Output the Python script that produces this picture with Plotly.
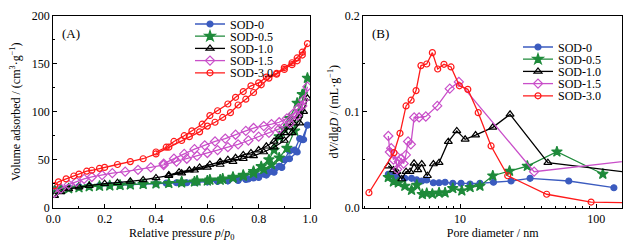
import plotly.graph_objects as go

# ---------------- Panel A: N2 isotherms (adsorption + desorption branches) -------------
names = ["SOD-0", "SOD-0.5", "SOD-1.0", "SOD-1.5", "SOD-3.0"]

a_p_sod0 = [0.005,0.03,0.06,0.1,0.14,0.18,0.22,0.26,0.3,0.35,0.4,0.44,0.48,0.52,0.56,0.6,0.64,0.68,0.72,0.76,0.8,0.83,0.86,0.89,0.92,0.95,0.97,0.99,
            0.975,0.96,0.94,0.92,0.9,0.88,0.86,0.84,0.82,0.8,0.78,0.75,0.72,0.68,0.64,0.6,0.55,0.5]
a_v_sod0 = [19,20,21,22,22.5,23,23.5,24,24,24.5,25,25.5,26,26,26.5,27,27.5,28,29,30,31.5,34,37,42,51,58,71,86,
            71,72,60,59,50,43,40,37,35,33,31,29.5,28.5,28,27.5,27,26.5,26]

a_p_sod05 = [0.005,0.03,0.06,0.1,0.14,0.18,0.22,0.26,0.3,0.35,0.4,0.45,0.5,0.55,0.6,0.65,0.7,0.74,0.78,0.82,0.85,0.88,0.91,0.94,0.96,0.99,
             0.97,0.95,0.92,0.9,0.88,0.86,0.84,0.81,0.78,0.74,0.7,0.66,0.61,0.56,0.5]
a_v_sod05 = [18,19,20,21,22,22.5,23,23.5,24,24.5,25,25.5,26,27,28,29,31,33,36,40,45,52,62,80,100,135,
             118,109,93,82,74,60,50,43,38,34,32,30,29,28,27]

a_p_sod10 = [0.005,0.03,0.06,0.1,0.14,0.2,0.25,0.3,0.35,0.4,0.45,0.5,0.55,0.6,0.65,0.7,0.74,0.78,0.82,0.86,0.9,0.93,0.96,0.99,
             0.975,0.955,0.935,0.92,0.9,0.88,0.86,0.83,0.8,0.77,0.74,0.71,0.68,0.65,0.61,0.57,0.53,0.49,0.45]
a_v_sod10 = [12.5,16.5,19.5,21.5,23,25,26,27.5,29,31,33.5,36,39,42,45,48,51,54,58,63,70,78,88,114,
             100,96,88,84,78,74,69,64,60,57,55,52,50,48,45,42,39,37,34]

a_p_sod15 = [0.005,0.03,0.06,0.09,0.12,0.15,0.19,0.23,0.28,0.33,0.38,0.43,0.48,0.52,0.56,0.6,0.64,0.68,0.72,0.76,0.8,0.84,0.88,0.92,0.95,0.97,0.99,
             0.975,0.955,0.935,0.91,0.88,0.85,0.82,0.78,0.75,0.71,0.67,0.63,0.59,0.55,0.51,0.47,0.43]
a_v_sod15 = [15.5,20,24,27,30,32,34,36,37.5,39.5,42,44.5,48,51,54,57,60,63,66,70,74,78,82,88,96,106,126,
             112,104,98,93,89,87,85,83,80,76,72,69,65,61,56,51,46]

a_p_sod30 = [0.005,0.02,0.05,0.08,0.1,0.13,0.15,0.18,0.2,0.25,0.3,0.35,0.4,0.45,0.5,0.53,0.57,0.6,0.63,0.66,0.69,0.72,0.75,0.78,0.81,0.84,0.87,0.9,0.93,0.95,0.97,0.99,
             0.97,0.95,0.93,0.9,0.87,0.83,0.8,0.77,0.74,0.71,0.68,0.64,0.61,0.58,0.54,0.51,0.47,0.44,0.4]
a_v_sod30 = [23,27,30,33,35,38,39,41,42,45,48,51,56,63,70,74,79,85,89,94,99,107,113,120,128,135,139,144,149,153,159,171,
             162,156,151,146,140,136,130,127,121,115,108,101,96,87,80,75,69,63,58]

# ---------------- Panel B: pore size distributions ----------------
b_d_sod0 = [2.97,3.13,3.45,3.93,4.4,4.81,5.23,5.69,6.37,7.01,7.76,8.84,10.17,11.85,14.0,17.6,23.7,32.7,62.9,135]
b_v_sod0 = [0.0348,0.034,0.0323,0.0306,0.0306,0.0289,0.0278,0.0289,0.026,0.026,0.0265,0.0254,0.0254,0.0247,0.0254,0.0265,0.0278,0.0306,0.0278,0.0208]

b_d_sod05 = [2.97,3.24,3.52,3.93,4.4,4.81,5.28,5.69,6.26,7.01,7.76,8.84,10.3,11.85,14.0,17.4,23.1,31.2,51.5,112]
b_v_sod05 = [0.0317,0.0271,0.026,0.0226,0.0184,0.0236,0.014,0.015,0.0143,0.0156,0.0156,0.0202,0.0177,0.0212,0.0226,0.0333,0.0382,0.0434,0.0583,0.0351]

b_d_sod10 = [2.97,3.24,3.43,3.73,4.01,4.29,4.59,4.89,5.23,5.75,6.37,7.01,8.2,9.46,10.9,13.0,17.4,23.3,44.2,200]
b_v_sod10 = [0.0434,0.0393,0.0375,0.0299,0.0375,0.0375,0.0462,0.0393,0.0455,0.0333,0.0455,0.0469,0.0688,0.08,0.0712,0.0757,0.0837,0.0973,0.0469,0.0356]

b_d_sod15 = [2.97,3.05,3.12,3.24,3.35,3.45,3.55,3.7,3.85,4.0,4.15,4.35,4.6,5.0,5.6,6.8,8.4,9.8,35,200]
b_v_sod15 = [0.0747,0.058,0.062,0.050,0.055,0.040,0.048,0.051,0.046,0.055,0.069,0.066,0.094,0.094,0.095,0.106,0.124,0.131,0.0375,0.0498]

b_d_sod30 = [2.14,3.27,3.62,4.01,4.37,4.75,5.16,5.69,6.26,6.85,7.62,8.58,9.89,11.4,13.6,16.9,22.4,43.3,91.8,200]
b_v_sod30 = [0.0156,0.0573,0.0775,0.106,0.112,0.122,0.148,0.1497,0.1615,0.1445,0.1494,0.1466,0.127,0.1233,0.099,0.0643,0.0333,0.014,0.0059,0.005]

colors = ["#3b5bbf", "#1e8a3a", "#000000", "#c94fc9", "#ff1a1a"]
symbols = ["circle", "star", "triangle-up-open", "diamond-open", "circle-open"]
msizes = [6, 8, 7, 7, 6]

a_x = [a_p_sod0, a_p_sod05, a_p_sod10, a_p_sod15, a_p_sod30]
a_y = [a_v_sod0, a_v_sod05, a_v_sod10, a_v_sod15, a_v_sod30]
b_x = [b_d_sod0, b_d_sod05, b_d_sod10, b_d_sod15, b_d_sod30]
b_y = [b_v_sod0, b_v_sod05, b_v_sod10, b_v_sod15, b_v_sod30]

FONT = "Liberation Serif"
OFF = 8          # page body margin
W, H = 644 - OFF, 248 - OFF
fig = go.Figure()

# legend row centres (page pixels from top) for each panel
leg_rows_a = [24, 36.2, 48.4, 60.6, 72.8]
leg_rows_b = [47, 59.2, 71.4, 83.6, 95.8]
legend_layouts = {}

for i, nm in enumerate(names):
    mk = dict(symbol=symbols[i], size=msizes[i], color=colors[i],
              line=dict(color=colors[i], width=1.2))
    lg = "legend" if i == 0 else f"legend{i + 1}"
    fig.add_trace(go.Scatter(x=a_x[i], y=a_y[i], mode="lines+markers", name=nm,
                             line=dict(color=colors[i], width=1.3), marker=mk,
                             xaxis="x", yaxis="y", legend=lg))
    legend_layouts[lg] = dict(x=(190 - OFF) / W, y=1 - (leg_rows_a[i] - OFF) / H,
                              xanchor="left", yanchor="middle",
                              bgcolor="rgba(0,0,0,0)", font=dict(family=FONT, size=12, color="black"),
                              itemwidth=30, borderwidth=0)
for i, nm in enumerate(names):
    mk = dict(symbol=symbols[i], size=msizes[i], color=colors[i],
              line=dict(color=colors[i], width=1.2))
    lg = f"legend{i + 6}"
    fig.add_trace(go.Scatter(x=b_x[i], y=b_y[i], mode="lines+markers", name=nm,
                             line=dict(color=colors[i], width=1.3), marker=mk,
                             xaxis="x2", yaxis="y2", legend=lg))
    legend_layouts[lg] = dict(x=(518 - OFF) / W, y=1 - (leg_rows_b[i] - OFF) / H,
                              xanchor="left", yanchor="middle",
                              bgcolor="rgba(0,0,0,0)", font=dict(family=FONT, size=12, color="black"),
                              itemwidth=30, borderwidth=0)

ax_common = dict(showline=True, linecolor="black", linewidth=1.2, mirror=True,
                 ticks="inside", ticklen=4, tickwidth=1, tickcolor="black",
                 showgrid=False, zeroline=False,
                 tickfont=dict(family=FONT, size=12, color="black"))
ydom = [(H - (207.7 - OFF)) / H, (H - (15.7 - OFF)) / H]
tfont = dict(family=FONT, size=12, color="black")

fig.update_layout(
    width=W, height=H, margin=dict(l=0, r=0, t=0, b=0, autoexpand=False),
    paper_bgcolor="white", plot_bgcolor="white",
    font=dict(family=FONT, size=12, color="black"),
    xaxis=dict(domain=[(53.3 - OFF) / W, (310 - OFF) / W], range=[0, 1.0], dtick=0.2, tickformat=".1f",
               minor=dict(ticks="inside", ticklen=2, dtick=0.1, tickcolor="black"),
               title=dict(text="Relative pressure <i>p</i>/<i>p</i><sub>0</sub>", font=tfont, standoff=3),
               anchor="y", **ax_common),
    yaxis=dict(domain=ydom, range=[0, 200], dtick=50,
               minor=dict(ticks="inside", ticklen=2, dtick=25, tickcolor="black"),
               title=dict(text="Volume adsorbed / (cm<sup>3</sup>·g<sup>−1</sup>)", font=tfont, standoff=13),
               anchor="x", **ax_common),
    xaxis2=dict(domain=[(363.3 - OFF) / W, (622 - OFF) / W], type="log", range=[0.289, 2.19],
                tickmode="array", tickvals=[10, 100], ticktext=["10", "100"],
                minor=dict(ticks="inside", ticklen=2, tickcolor="black",
                           tickvals=[2, 3, 4, 5, 6, 7, 8, 9, 20, 30, 40, 50, 60, 70, 80, 90]),
                title=dict(text="Pore diameter / nm", font=tfont, standoff=3),
                anchor="y2", **ax_common),
    yaxis2=dict(domain=ydom, range=[0, 0.2], dtick=0.1, tickformat=".1f",
                minor=dict(ticks="inside", ticklen=2, dtick=0.05, tickcolor="black"),
                title=dict(text="d<i>V</i>/dlg<i>D</i> / (mL·g<sup>−1</sup>)", font=tfont, standoff=3),
                anchor="x2", **ax_common),
    showlegend=True,
    annotations=[
        dict(text="(A)", x=0.026, y=0.957, xref="x domain", yref="y domain",
             xanchor="left", yanchor="top", showarrow=False, font=dict(family=FONT, size=13)),
        dict(text="(B)", x=0.026, y=0.957, xref="x2 domain", yref="y2 domain",
             xanchor="left", yanchor="top", showarrow=False, font=dict(family=FONT, size=13)),
    ],
)
fig.update_layout(**legend_layouts)

fig.write_html("out.html")
